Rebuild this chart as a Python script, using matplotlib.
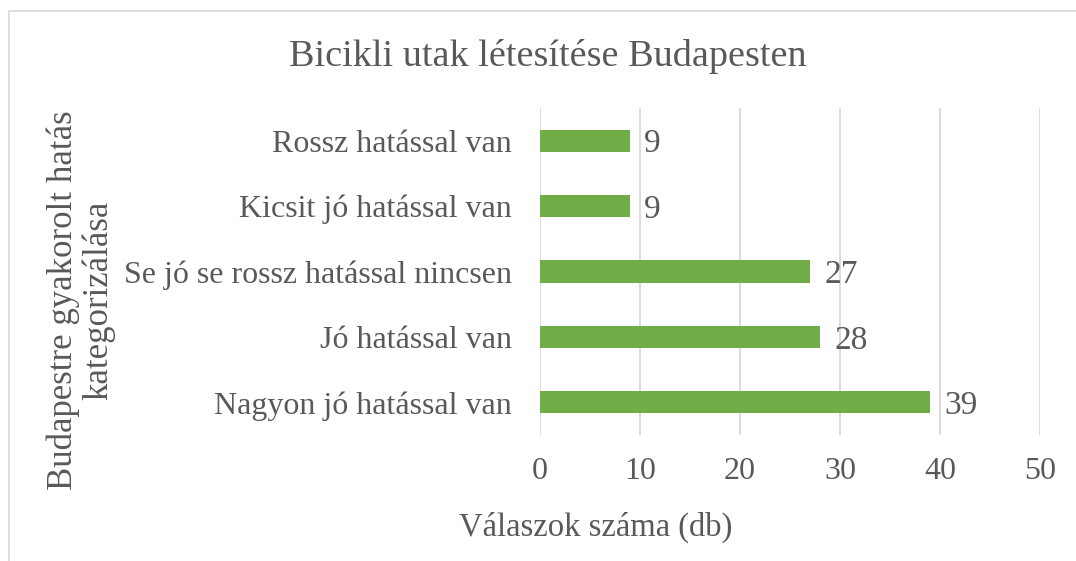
import matplotlib
matplotlib.use("Agg")
import matplotlib.pyplot as plt
from matplotlib.patches import Rectangle

categories = ["Nagyon jó hatással van", "Jó hatással van", "Se jó se rossz hatással nincsen",
              "Kicsit jó hatással van", "Rossz hatással van"]
values = [39, 28, 27, 9, 9]
xticks = [0, 10, 20, 30, 40, 50]

TXT = "#595959"
plt.rcParams['font.family'] = ['Liberation Serif', 'DejaVu Serif']

W, H = 1076, 561
fig = plt.figure(figsize=(W / 100, H / 100), dpi=100)
fig.patches.append(Rectangle((9 / W, -0.1), 1.2, 1.1 - 11 / H, transform=fig.transFigure,
                             fill=False, edgecolor="#d9d9d9", linewidth=1.2))

ax = fig.add_axes([540 / W, 1 - 435 / H, 500 / W, (435 - 108) / H])
y = list(range(len(categories)))
ax.barh(y, values, height=0.34, color="#70AD47", zorder=3)
for yi, v in zip(y, values):
    ax.text(v + 1.4, yi, str(v), va="center_baseline", ha="left", fontsize=24, color=TXT)

ax.set_xlim(0, 50)
ax.set_ylim(-0.5, len(categories) - 0.5)
ax.set_xticks(xticks)
ax.set_xticklabels([str(t) for t in xticks])
ax.set_yticks(y)
ax.set_yticklabels(categories)
ax.tick_params(axis="both", length=0, labelsize=23, colors=TXT)
ax.tick_params(axis="x", pad=16)
ax.tick_params(axis="y", pad=20)
ax.grid(axis="x", color="#d9d9d9", linewidth=1.3, zorder=0)
for s in ax.spines.values():
    s.set_visible(False)

fig.text(548 / W, 1 - 56 / H, "Bicikli utak létesítése Budapesten", ha="center", va="center",
         fontsize=27.5, color=TXT)
fig.text(596 / W, 1 - 527 / H, "Válaszok száma (db)", ha="center", va="center",
         fontsize=23.5, color=TXT)
fig.text(81 / W, 1 - 300 / H, "Budapestre gyakorolt hatás\nkategorizálása", ha="center",
         va="center", rotation=90, fontsize=25, color=TXT, linespacing=1.05)

fig.savefig("out.png", dpi=100)
